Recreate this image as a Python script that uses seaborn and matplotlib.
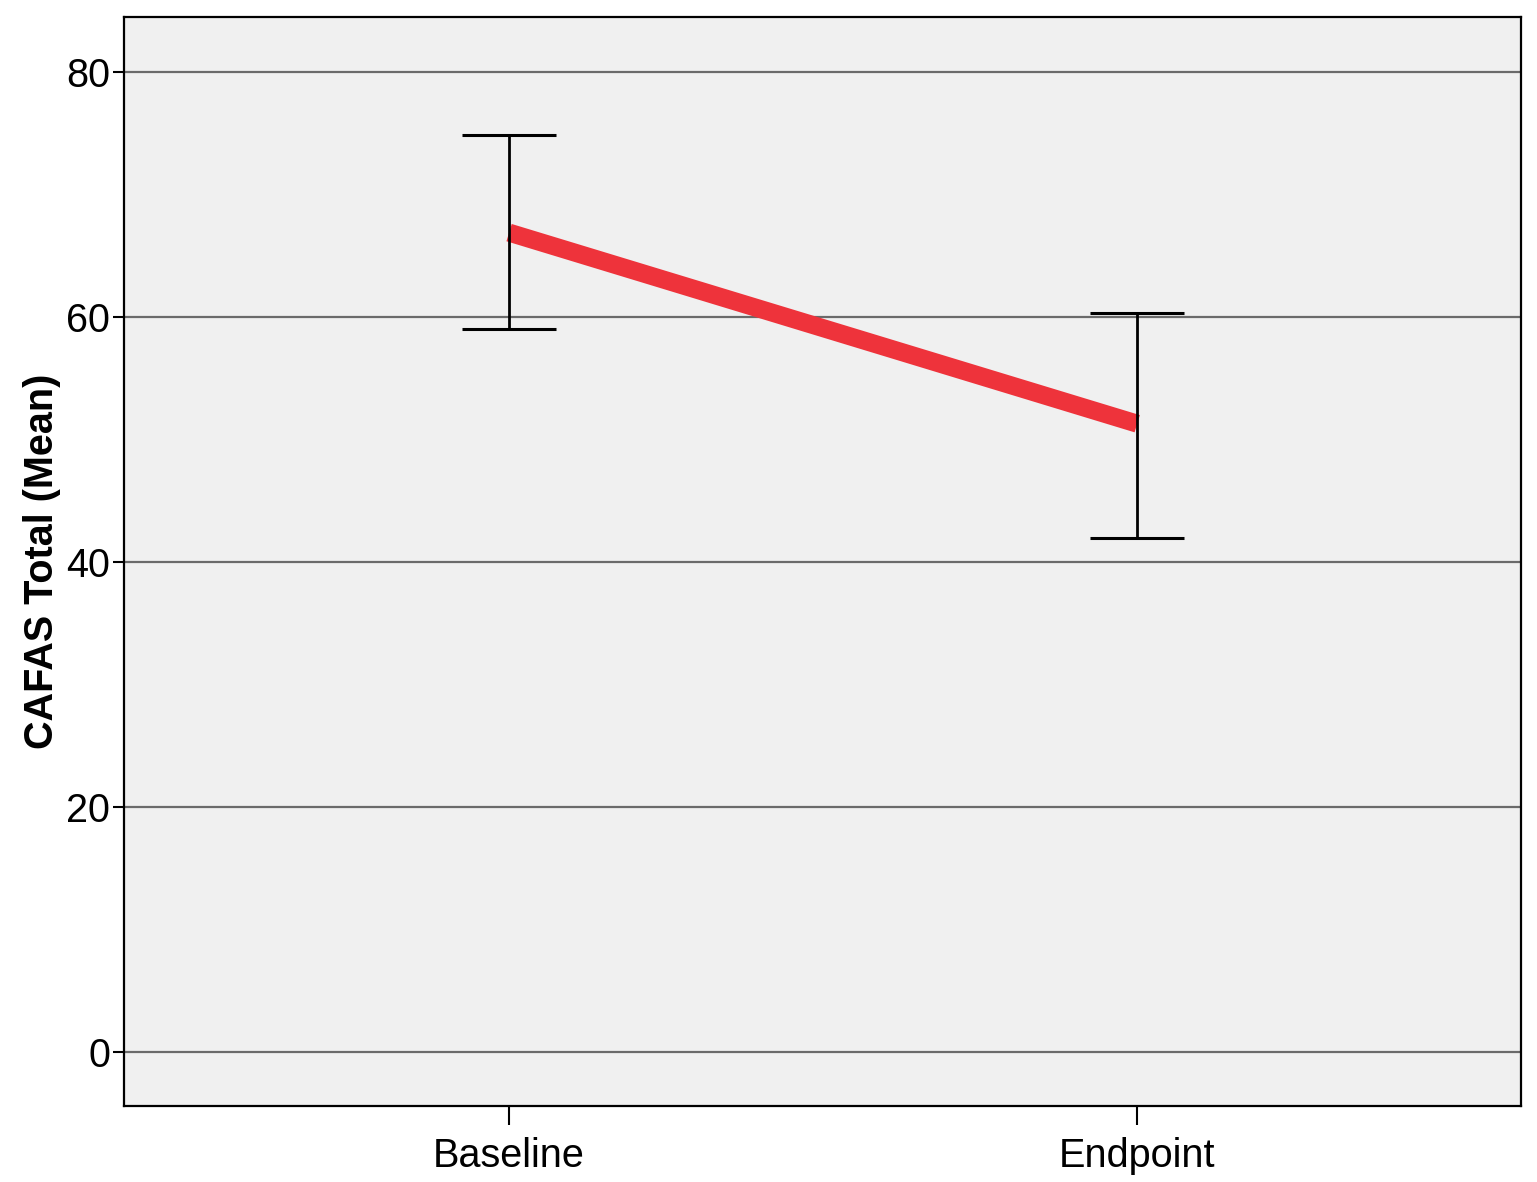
import numpy as np
import pandas as pd
import matplotlib
matplotlib.use("Agg")
import matplotlib.pyplot as plt
import seaborn as sns

# values
timepoints = ["Baseline", "Endpoint"]
mean_score = [66.9, 51.3]
ci_lower = [59.0, 42.0]
ci_upper = [74.9, 60.3]
y_ticks = [0, 20, 40, 60, 80]

df = pd.DataFrame({"timepoint": timepoints, "mean": mean_score,
                   "lo": ci_lower, "hi": ci_upper})

sns.set_theme(style="white")
plt.rcParams["font.family"] = ["Liberation Sans", "DejaVu Sans"]
plt.rcParams["text.color"] = "black"
plt.rcParams["axes.labelcolor"] = "black"
plt.rcParams["xtick.color"] = "black"
plt.rcParams["ytick.color"] = "black"

fig = plt.figure(figsize=(15.37, 11.82), dpi=100)
ax = fig.add_axes([0.0807, 0.0643, 0.9089, 0.9213])
ax.set_facecolor("#f0f0f0")

for y in y_ticks:
    ax.axhline(y, color="#6a6a6a", lw=1.6, zorder=1)

sns.pointplot(data=df, x="timepoint", y="mean", errorbar=None,
              color="#ee333b", markers="", linewidth=13, ax=ax, zorder=3,
              solid_capstyle="butt")

xpos = np.arange(len(df))
ax.errorbar(xpos, df["mean"], yerr=[df["mean"] - df["lo"], df["hi"] - df["mean"]],
            fmt="none", ecolor="black", elinewidth=2.0, capsize=34,
            capthick=2.2, zorder=4)

ax.set_xlim(-0.613, 1.611)
ax.set_ylim(-4.4, 84.5)
ax.set_yticks(y_ticks)
ax.set_xlabel("")
ax.set_ylabel("CAFAS Total (Mean)", fontsize=28.5, fontweight="bold", labelpad=4)
ax.tick_params(axis="both", labelsize=28.5, direction="out", width=1.5,
               left=True, bottom=True)
ax.tick_params(axis="y", length=8, pad=2)
ax.tick_params(axis="x", length=14, pad=8)

for sp in ax.spines.values():
    sp.set_color("black")
    sp.set_linewidth(1.6)

fig.savefig("out.png", dpi=100)
